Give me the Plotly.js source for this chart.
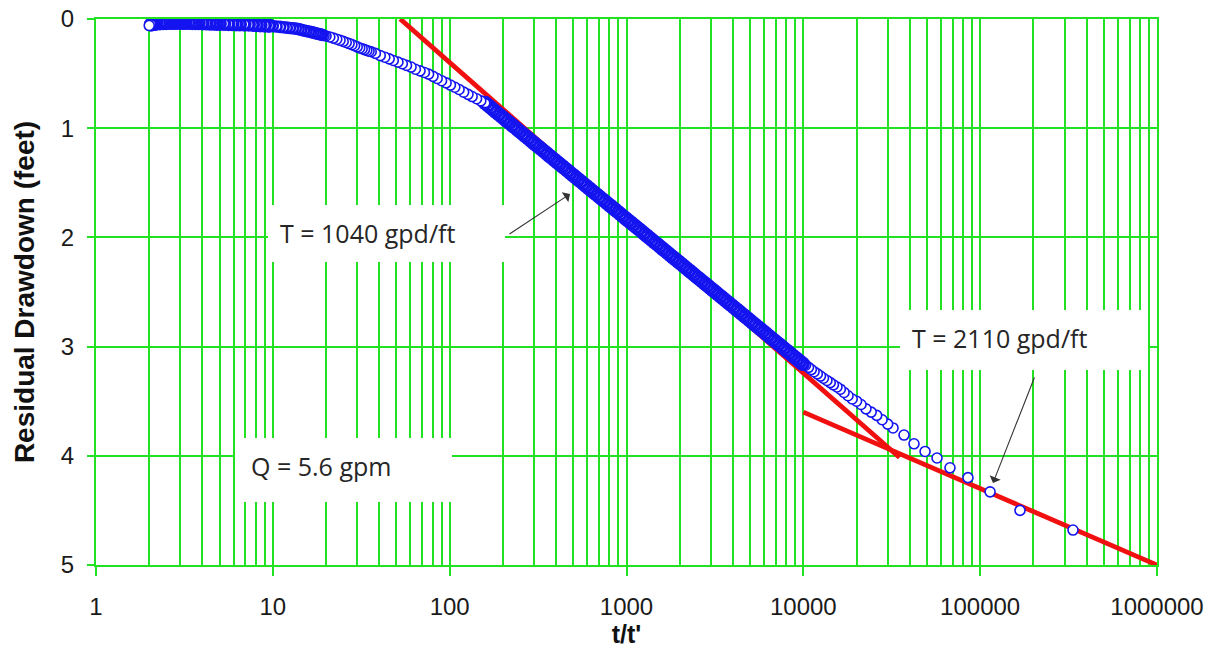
<!DOCTYPE html>
<html>
<head>
<meta charset="utf-8">
<script src="https://cdn.plot.ly/plotly-3.0.1.min.js"></script>
<style>html,body{margin:0;padding:0;background:#fff;}#chart{width:1212px;height:653px;}</style>
</head>
<body>
<div id="chart"></div>
<script>
const lateX = [335000, 168000, 113800, 85300, 67500, 57000, 48800, 42250, 37100, 32150, 30000, 27900, 26000, 24200, 22600, 21200, 20000, 18900, 17900, 17000, 16200, 15500, 14800, 14200, 13600, 13000, 12500, 12000, 11500, 11100, 10700, 10300];
const lateY = [4.68, 4.50, 4.33, 4.20, 4.11, 4.02, 3.96, 3.89, 3.81, 3.745, 3.71, 3.67, 3.63, 3.60, 3.57, 3.53, 3.50, 3.48, 3.45, 3.42, 3.39, 3.37, 3.35, 3.33, 3.31, 3.29, 3.27, 3.25, 3.23, 3.21, 3.19, 3.17];

const midX = [9912, 9577, 9253, 8940, 8638, 8346, 8063, 7791, 7527, 7273, 7027, 6789, 6560, 6338, 6123, 5916, 5716, 5523, 5336, 5156, 4981, 4813, 4650, 4493, 4341, 4194, 4052, 3915, 3783, 3655, 3531, 3412, 3296, 3185, 3077, 2973, 2873, 2776, 2682, 2591, 2504, 2419, 2337, 2258, 2182, 2108, 2037, 1968, 1901, 1837, 1775, 1715, 1657, 1601, 1547, 1495, 1444, 1395, 1348, 1303, 1259, 1216, 1175, 1136, 1097, 1060, 1025, 990, 957, 924, 893, 863, 834, 806, 779, 753, 728, 703, 679, 656, 634, 613, 592, 572, 553, 534, 516, 499, 482, 466, 450, 435, 420, 406, 392, 379, 366, 354, 342, 330, 319, 308, 298, 288, 278, 268, 259, 250, 242, 234, 226, 218, 211, 204, 197, 190, 183, 177, 171, 165, 159];
const midY = [3.157, 3.137, 3.117, 3.098, 3.078, 3.058, 3.038, 3.018, 2.998, 2.978, 2.959, 2.939, 2.919, 2.899, 2.879, 2.859, 2.839, 2.820, 2.800, 2.780, 2.760, 2.740, 2.720, 2.700, 2.680, 2.660, 2.641, 2.621, 2.601, 2.581, 2.561, 2.541, 2.521, 2.501, 2.482, 2.462, 2.442, 2.422, 2.402, 2.382, 2.363, 2.343, 2.323, 2.303, 2.283, 2.263, 2.243, 2.223, 2.203, 2.184, 2.164, 2.144, 2.124, 2.104, 2.084, 2.064, 2.045, 2.025, 2.005, 1.985, 1.965, 1.945, 1.925, 1.906, 1.886, 1.866, 1.847, 1.827, 1.807, 1.787, 1.767, 1.747, 1.727, 1.708, 1.688, 1.668, 1.649, 1.629, 1.609, 1.589, 1.569, 1.550, 1.529, 1.510, 1.490, 1.470, 1.450, 1.431, 1.411, 1.391, 1.371, 1.351, 1.331, 1.312, 1.291, 1.272, 1.252, 1.232, 1.212, 1.192, 1.172, 1.152, 1.133, 1.113, 1.093, 1.072, 1.052, 1.032, 1.013, 0.993, 0.973, 0.952, 0.934, 0.914, 0.894, 0.873, 0.852, 0.832, 0.812, 0.791, 0.770];

const earlyX = [150, 142, 134, 127, 120, 113, 107, 101, 95.5, 90, 85, 80.5, 76, 72, 68, 64, 60.5, 57, 54, 51, 48, 45.5, 43, 40.5, 38, 36, 35, 34, 33, 32, 31, 30, 29, 28, 27, 26, 25, 24, 23, 22, 21, 20, 19.5];
const earlyY = [0.75, 0.73, 0.71, 0.69, 0.67, 0.645, 0.625, 0.605, 0.585, 0.565, 0.545, 0.525, 0.505, 0.49, 0.475, 0.46, 0.44, 0.425, 0.41, 0.395, 0.38, 0.365, 0.35, 0.335, 0.315, 0.30, 0.295, 0.288, 0.28, 0.272, 0.265, 0.255, 0.245, 0.235, 0.225, 0.215, 0.205, 0.195, 0.185, 0.175, 0.165, 0.155, 0.15];

const bendX = [19, 18.5, 18, 17.5, 17, 16.5, 16, 15.5, 15, 14.5, 14, 13.5, 13, 12.5, 12, 11.5, 11, 10.5, 10];
const bendY = [0.145, 0.14, 0.135, 0.13, 0.125, 0.12, 0.115, 0.11, 0.105, 0.098, 0.093, 0.088, 0.085, 0.082, 0.079, 0.076, 0.072, 0.068, 0.065];

const lastX = [9.5, 9.0, 8.5, 8.1, 7.7, 7.3, 6.9, 6.5, 6.2, 5.9, 5.6, 5.3, 5.0, 4.8, 4.6, 4.4, 4.2, 4.0, 3.8, 3.65, 3.5, 3.35, 3.2, 3.1, 3.0, 2.9, 2.8, 2.7, 2.6, 2.5, 2.4, 2.3, 2.2, 2.15, 2.1, 2.05];
const lastY = [0.061, 0.058, 0.056, 0.054, 0.052, 0.05, 0.049, 0.048, 0.047, 0.046, 0.045, 0.044, 0.043, 0.042, 0.041, 0.04, 0.039, 0.038, 0.037, 0.036, 0.036, 0.035, 0.035, 0.034, 0.034, 0.034, 0.034, 0.035, 0.035, 0.036, 0.037, 0.038, 0.04, 0.042, 0.045, 0.05];

const finalX = [2.0];
const finalY = [0.06];

// Straight-line fits drawn on the plot (end points)
const fit1X = [52.5, 35000];
const fit1Y = [0, 4.016];
const fit2X = [10000, 1000000];
const fit2Y = [3.6, 5.0];

// Axis tick labels
const xTickVals = [1, 10, 100, 1000, 10000, 100000, 1000000];
const xTickText = ['1', '10', '100', '1000', '10000', '100000', '1000000'];
const yTickVals = [0, 1, 2, 3, 4, 5];
const yTickText = ['0', '1', '2', '3', '4', '5'];

// Annotation texts
const labelT1 = 'T = 1040 gpd/ft';
const labelT2 = 'T = 2110 gpd/ft';
const labelQ = 'Q = 5.6 gpm';

// ---- Build ----
const minorVals = [];
for (let d = 0; d < 6; d++) {
  for (let m = 2; m <= 9; m++) minorVals.push(m * Math.pow(10, d));
}

const GREEN = '#22e022';
const RED = '#f01010';
const BLUE = '#1414f0';
const NUMFONT = 'Arial, "Liberation Sans", sans-serif';
const TXTFONT = '"Open Sans", "Noto Sans", sans-serif';

const thin = {symbol: 'circle', size: 10, color: '#ffffff', line: {color: BLUE, width: 1.6}};
const medium = {symbol: 'circle', size: 10, color: '#ffffff', line: {color: BLUE, width: 2.6}};
const thick = {symbol: 'circle', size: 11, color: '#ffffff', line: {color: BLUE, width: 3.6}};

function pts(x, y, marker) {
  return {x: x, y: y, mode: 'markers', showlegend: false, hoverinfo: 'skip', marker: marker};
}

const traces = [
  {x: fit1X, y: fit1Y, mode: 'lines', line: {color: RED, width: 4.8}, hoverinfo: 'skip', showlegend: false},
  {x: fit2X, y: fit2Y, mode: 'lines', line: {color: RED, width: 4.8}, hoverinfo: 'skip', showlegend: false},
  pts(lateX, lateY, thin),
  pts(midX, midY, thick),
  pts(earlyX, earlyY, thin),
  pts(bendX, bendY, medium),
  pts(lastX, lastY, thick),
  pts(finalX, finalY, thin)
];

function px(xp) { return (xp - 96) / (1157 - 96); }
function py(yp) { return (565 - yp) / (565 - 19); }

const boxes = [
  [268, 505, 205, 262],
  [900, 1148, 310, 370],
  [235, 452, 438, 502]
];

const shapes = boxes.map(b => ({
  type: 'rect', xref: 'paper', yref: 'paper',
  x0: px(b[0]), x1: px(b[1]), y0: py(b[3]), y1: py(b[2]),
  fillcolor: '#ffffff', line: {width: 0}, layer: 'above'
}));

const annFont = {family: TXTFONT, size: 25, color: '#262626'};
const annotations = [
  {xref: 'paper', yref: 'paper', x: px(278), y: py(233), xanchor: 'left', yanchor: 'middle', text: labelT1, showarrow: false, font: annFont},
  {xref: 'paper', yref: 'paper', x: px(910), y: py(338), xanchor: 'left', yanchor: 'middle', text: labelT2, showarrow: false, font: annFont},
  {xref: 'paper', yref: 'paper', x: px(249), y: py(466), xanchor: 'left', yanchor: 'middle', text: labelQ, showarrow: false, font: annFont},
  {xref: 'paper', yref: 'paper', x: px(570), y: py(194), ax: -62, ay: 41, text: '', showarrow: true,
   arrowhead: 1, arrowsize: 1.8, arrowwidth: 1.1, arrowcolor: '#333333'},
  {xref: 'paper', yref: 'paper', x: px(993), y: py(483), ax: 42, ay: -107, text: '', showarrow: true,
   arrowhead: 1, arrowsize: 1.8, arrowwidth: 1.1, arrowcolor: '#333333'}
];

const layout = {
  width: 1212, height: 653,
  margin: {l: 96, r: 55, t: 19, b: 88, pad: 0},
  paper_bgcolor: '#ffffff', plot_bgcolor: '#ffffff',
  showlegend: false,
  xaxis: {
    type: 'log', range: [0, 6],
    tickmode: 'array', tickvals: xTickVals, ticktext: xTickText,
    showgrid: true, gridcolor: GREEN, gridwidth: 2,
    showline: true, linecolor: GREEN, linewidth: 2, mirror: true,
    ticks: 'outside', ticklen: 9, tickcolor: GREEN, tickwidth: 2,
    ticklabelstandoff: 10,
    tickfont: {family: NUMFONT, size: 24, color: '#1a1a1a'},
    minor: {tickmode: 'array', tickvals: minorVals, showgrid: true, gridcolor: GREEN, gridwidth: 2, ticks: ''},
    zeroline: false,
    title: {text: "t/t'", font: {family: NUMFONT, size: 25, color: '#111111', weight: 'bold'}, standoff: 6}
  },
  yaxis: {
    range: [5, 0],
    tickmode: 'array', tickvals: yTickVals, ticktext: yTickText,
    showgrid: true, gridcolor: GREEN, gridwidth: 2,
    showline: true, linecolor: GREEN, linewidth: 2, mirror: true,
    ticks: 'outside', ticklen: 7, tickcolor: GREEN, tickwidth: 2,
    ticklabelstandoff: 8,
    tickfont: {family: NUMFONT, size: 24, color: '#1a1a1a'},
    zeroline: false,
    title: {text: 'Residual Drawdown (feet)', font: {family: NUMFONT, size: 28, color: '#111111', weight: 'bold'}, standoff: 18}
  },
  shapes: shapes,
  annotations: annotations
};

Plotly.newPlot('chart', traces, layout, {displayModeBar: false, staticPlot: true});
</script>
</body>
</html>
